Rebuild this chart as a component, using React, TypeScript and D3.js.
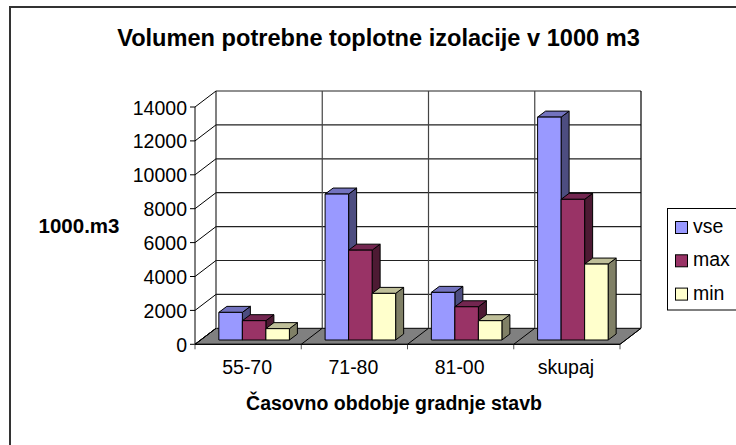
import * as d3 from 'd3';
import React from 'react';

// Data
const categories = ['55-70', '71-80', '81-00', 'skupaj'];
const seriesNames = ['vse', 'max', 'min'];
const vse = [1630, 8610, 2810, 13150];
const max = [1140, 5300, 1960, 8300];
const min = [670, 2750, 1140, 4480];
const yTicks = [0, 2000, 4000, 6000, 8000, 10000, 12000, 14000];

const seriesValues = [vse, max, min];
const faceColors = ['#9999FF', '#993366', '#FFFFCC'];
const topColors = ['#7373BF', '#732650', '#BFBF99'];
const sideColors = ['#4D4D80', '#4D1A33', '#808066'];

const width = 736;
const height = 445;
const font = '"Liberation Sans", Arial, sans-serif';

// Front plane of the fake 3D box
const frontLeft = 195;
const frontRight = 620;
const frontBottom = 344.3;
const frontTop = 107;
const wallDx = 21;
const wallDy = -16;
const barDx = 8;
const barDy = -6;
const barShiftY = -4.3;

const y = d3.scaleLinear().domain([0, 14000]).range([frontBottom, frontTop]);
const x = d3.scaleBand<string>().domain(categories).range([frontLeft, frontRight]);
const xBars = d3.scaleBand<string>().domain(categories).range([frontLeft + 6, frontRight + 6]).paddingInner(0.336).paddingOuter(0.168);
const xInner = d3.scaleBand<string>().domain(seriesNames).range([0, xBars.bandwidth()]);

const poly = d3.line();

export default function App() {
    const backLeft = frontLeft + wallDx;
    const backRight = frontRight + wallDx;
    const boundaries = [...categories.map((c) => x(c) as number), frontRight];

    return (
        <svg width={width} height={height} style={{ position: 'absolute', left: 0, top: 0, background: '#fff' }} fontFamily={font}>
            {/* outer frame, runs off the picture on the right and bottom */}
            <rect x={10} y={7} width={width + 20} height={height + 20} fill="#fff" stroke="#333" strokeWidth={2} />

            <text x={378.5} y={46} textAnchor="middle" fontSize={23.6} fontWeight="bold">Volumen potrebne toplotne izolacije v 1000 m3</text>
            <text x={79} y={233} textAnchor="middle" fontSize={20.5} fontWeight="bold">1000.m3</text>
            <text x={394} y={410} textAnchor="middle" fontSize={19.5} fontWeight="bold">Časovno obdobje gradnje stavb</text>

            {/* floor */}
            <path d={poly([[frontLeft, frontBottom], [frontRight, frontBottom], [backRight, frontBottom + wallDy], [backLeft, frontBottom + wallDy]]) + 'Z'} fill="#808080" stroke="#000" />

            {/* walls */}
            <line x1={backLeft} x2={backLeft} y1={y(14000) + wallDy} y2={frontBottom + wallDy} stroke="#808080" strokeWidth={2} />
            {yTicks.map((t) => (
                <g key={t}>
                    <line x1={frontLeft} x2={backLeft} y1={y(t)} y2={y(t) + wallDy} stroke="#000" />
                    {t > 0 && <line x1={backLeft} x2={backRight} y1={y(t) + wallDy} y2={y(t) + wallDy} stroke="#222" strokeWidth={1.2} />}
                    <line x1={frontLeft - 5} x2={frontLeft} y1={y(t)} y2={y(t)} stroke="#000" />
                    <text x={187} y={y(t) + 7.5} textAnchor="end" fontSize={19.5}>{t}</text>
                </g>
            ))}
            {boundaries.map((b, i) => (
                <g key={i}>
                    {i > 0 && <line x1={b + wallDx} x2={b + wallDx} y1={y(14000) + wallDy} y2={frontBottom + wallDy} stroke={i === boundaries.length - 1 ? '#000' : '#444'} strokeWidth={1.2} />}
                    <line x1={b} x2={b + wallDx} y1={frontBottom} y2={frontBottom + wallDy} stroke="#000" />
                    <line x1={b} x2={b} y1={frontBottom} y2={frontBottom + 5} stroke="#555" />
                </g>
            ))}

            {/* axes front lines */}
            <line x1={frontLeft} x2={frontLeft} y1={y(14000)} y2={frontBottom} stroke="#000" />
            <line x1={frontLeft} x2={frontRight} y1={frontBottom} y2={frontBottom} stroke="#000" />

            {/* bars */}
            {categories.map((c, ci) => (
                <g key={c}>
                    {seriesNames.map((s, si) => {
                        const bx = (xBars(c) as number) + (xInner(s) as number);
                        const bw = xInner.bandwidth();
                        const top = y(seriesValues[si][ci]) + barShiftY;
                        const bottom = frontBottom + barShiftY;
                        return (
                            <g key={s} stroke="#000" strokeWidth={1} strokeLinejoin="round">
                                <path d={poly([[bx + bw, top], [bx + bw + barDx, top + barDy], [bx + bw + barDx, bottom + barDy], [bx + bw, bottom]]) + 'Z'} fill={sideColors[si]} />
                                <path d={poly([[bx, top], [bx + barDx, top + barDy], [bx + bw + barDx, top + barDy], [bx + bw, top]]) + 'Z'} fill={topColors[si]} />
                                <rect x={bx} y={top} width={bw} height={bottom - top} fill={faceColors[si]} />
                            </g>
                        );
                    })}
                </g>
            ))}

            {categories.map((c) => (
                <text key={c} x={(x(c) as number) + x.bandwidth() / 2 - 1} y={373.5} textAnchor="middle" fontSize={19.5}>{c}</text>
            ))}

            {/* legend */}
            <rect x={667.5} y={208.5} width={90} height={101.5} fill="#fff" stroke="#000" />
            {seriesNames.map((s, i) => (
                <g key={s}>
                    <rect x={675.5} y={221.5 + i * 33.3} width={12} height={12} fill={faceColors[i]} stroke="#000" />
                    <text x={693} y={233 + i * 33.3} fontSize={19.5}>{s}</text>
                </g>
            ))}
        </svg>
    );
}
